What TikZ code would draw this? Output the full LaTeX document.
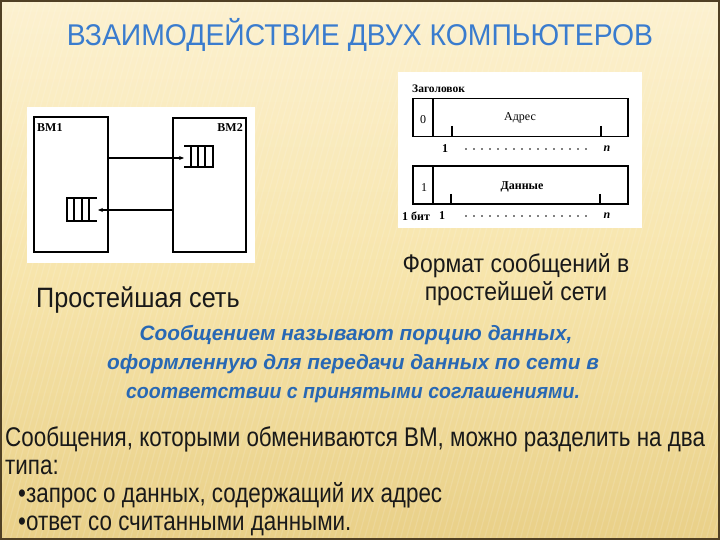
\documentclass[tikz,border=0pt]{standalone}
\usepackage{fontspec}
\setmainfont{Liberation Sans}
\newfontfamily\narrowfont[FakeStretch=0.9]{Liberation Sans}
\newfontfamily\bodyfont[FakeStretch=0.83]{Liberation Sans}
\newfontfamily\titlefont[FakeStretch=0.945]{Liberation Sans}
\newfontfamily\bluefont{Liberation Sans}
\newfontfamily\bluenarrow[FakeStretch=0.94]{Liberation Sans}
\newfontfamily\scanfont{Liberation Serif}
\usetikzlibrary{arrows.meta}
\definecolor{bgtop}{RGB}{252,241,208}
\definecolor{bgmid}{RGB}{247,229,172}
\definecolor{bgbot}{RGB}{233,208,136}
\definecolor{framec}{RGB}{80,64,36}
\definecolor{titleblue}{RGB}{58,124,206}
\definecolor{msgblue}{RGB}{40,104,180}
\definecolor{ink}{RGB}{25,25,25}
\tikzset{
  scanline/.style={draw=black, line width=1.1pt},
  vmbox/.style={draw=black, line width=1.2pt, minimum width=74pt, minimum height=135pt, inner sep=0pt},
  fieldbox/.style={draw=black, line width=1.1pt, minimum width=215pt, minimum height=38pt, inner sep=0pt},
  scantext/.style={font=\scanfont\fontsize{12}{14}\selectfont, inner sep=0pt},
  scanbold/.style={font=\scanfont\bfseries\fontsize{12}{14}\selectfont, inner sep=0pt},
  caption/.style={font=\narrowfont\fontsize{28}{32}\selectfont, text=ink, inner sep=0pt},
  msg/.style={font=\bluefont\bfseries\itshape\fontsize{20.8}{25}\selectfont, text=msgblue, inner sep=0pt},
  body/.style={font=\bodyfont\fontsize{27}{31}\selectfont, text=ink, inner sep=0pt, anchor=base west},
  msgarrow/.style={draw=black, line width=1.1pt, -{Stealth[length=5pt,width=4pt]}},
}
\begin{document}
\begin{tikzpicture}[x=1pt,y=-1pt]
\useasboundingbox (0,0) rectangle (720,540);
% background
\shade[top color=bgtop, bottom color=bgbot, middle color=bgmid] (0,0) rectangle (720,540);
\foreach \i in {-200,-194,...,720}
  \draw[white, opacity=0.13, line width=1.2pt] (\i+150,0) -- (\i,540);
\draw[framec, line width=2pt] (1,1) rectangle (719,539);

% title
\node[font=\titlefont\fontsize{30}{36}\selectfont, text=titleblue, inner sep=0pt, anchor=base] (title) at (360,46) {ВЗАИМОДЕЙСТВИЕ ДВУХ КОМПЬЮТЕРОВ};

% ---------- left figure: simplest network ----------
\fill[white] (27,107) rectangle (255,263);
\node[vmbox] (vm1) at (71,184.5) {};
\node[vmbox, minimum width=73pt, minimum height=134pt] (vm2) at (209.5,185) {};
\node[scanbold, anchor=north west] (vm1lbl) at (37,123) {ВМ1};
\node[scanbold, anchor=north east] (vm2lbl) at (243,123) {ВМ2};
% queue in VM2 (open on the left)
\draw[scanline] (184,146) -- (213,146) -- (213,167) -- (184,167);
\foreach \x in {191,198,205} \draw[scanline] (\x,146) -- (\x,167);
\coordinate (q2in) at (184,158);
% queue in VM1 (open on the right)
\draw[scanline] (97,198) -- (67,198) -- (67,221) -- (97,221);
\foreach \x in {74,82,89} \draw[scanline] (\x,198) -- (\x,221);
\coordinate (q1in) at (98,210);
% messages
\draw[msgarrow] (vm1.east |- q2in) -- (q2in);
\draw[msgarrow] (vm2.west |- q1in) -- (q1in);

\node[caption, anchor=base west] (simple) at (36,307) {Простейшая сеть};

% ---------- right figure: message format ----------
\fill[white] (398,72) rectangle (642,228);
\node[scanbold, anchor=base west, font=\scanfont\bfseries\fontsize{11.5}{14}\selectfont] (hdr) at (412,93) {Заголовок};
\node[fieldbox] (f1) at (520.5,117.5) {};
\node[fieldbox] (f2) at (520.5,185) {};
\draw[scanline] (433,98.5) -- (433,136.5);
\draw[scanline] (433,166) -- (433,204);
\draw[scanline] (452,126) -- (452,136.5);
\draw[scanline] (601,126) -- (601,136.5);
\draw[scanline] (451,194) -- (451,204);
\draw[scanline] (600,194) -- (600,204);
\node[scantext] (bit0) at (423,120) {0};
\node[scantext] (addr) at (520,118) {Адрес};
\node[scantext] (bit1) at (424,188) {1};
\node[scantext, font=\scanfont\bfseries\fontsize{12}{14}\selectfont] (data) at (522,187) {Данные};
\node[scanbold] (a1) at (445,149) {1};
\node[scanbold, font=\scanfont\bfseries\itshape\fontsize{12}{14}\selectfont] (an) at (607,149) {n};
\node[scanbold] (bitlbl) at (416,216) {1 бит};
\node[scanbold] (d1) at (442,216) {1};
\node[scanbold, font=\scanfont\bfseries\itshape\fontsize{12}{14}\selectfont] (dn) at (607,216) {n};
\foreach \x in {466,474,...,590} {
  \fill (\x,149) circle (0.8);
  \fill (\x,216) circle (0.8);
}

\node[caption, anchor=base, font=\narrowfont\fontsize{25.5}{30}\selectfont] (fmt1) at (516,272) {Формат сообщений в};
\node[caption, anchor=base, font=\narrowfont\fontsize{25.5}{30}\selectfont] (fmt2) at (516,300) {простейшей сети};

% ---------- definition ----------
\node[msg, anchor=base] (m1) at (356,340) {Сообщением называют порцию данных,};
\node[msg, anchor=base] (m2) at (353,369) {оформленную для передачи данных по сети в};
\node[msg, anchor=base, font=\bluenarrow\bfseries\itshape\fontsize{20.8}{25}\selectfont] (m3) at (353,398) {соответствии с принятыми соглашениями.};

% ---------- body ----------
\node[body] (b1) at (5,446) {Сообщения, которыми обмениваются ВМ, можно разделить на два};
\node[body] (b2) at (5,474) {типа:};
\node[body] (b3) at (18,502) {•запрос о данных, содержащий их адрес};
\node[body] (b4) at (18,530) {•ответ со считанными данными.};
\end{tikzpicture}
\end{document}
